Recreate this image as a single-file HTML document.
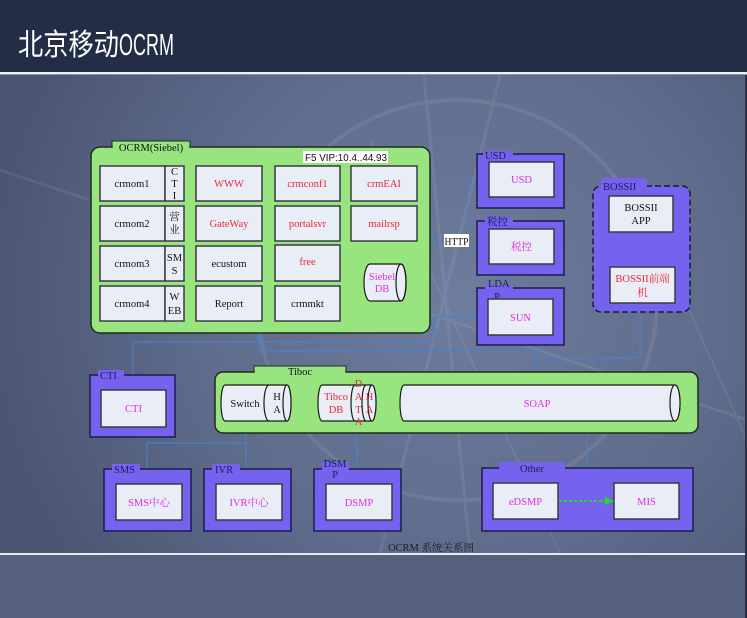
<!DOCTYPE html>
<html><head><meta charset="utf-8"><style>
html,body{margin:0;padding:0;background:#232d46;}
svg{display:block;}
.s{font-family:"Liberation Serif","Noto Serif CJK SC",serif;font-size:10.5px;}
.c{text-anchor:middle;}
.k{fill:#111;}
.r{fill:#e8283c;}
.m{fill:#e02ee0;}
.n{fill:#1c1c5a;}
.box{fill:#e9edf5;stroke:#3a3a44;stroke-width:1.5;}
.pur{fill:#7563ef;stroke:#1d1d4a;stroke-width:1.5;}
.grn{fill:#98e47e;stroke:#1f2a1f;stroke-width:1.5;}
.ln{stroke:#4d80c4;stroke-width:1.2;fill:none;}
.cy{fill:#e9edf5;stroke:#1a1a1a;stroke-width:1.2;}
</style></head><body>
<svg width="747" height="618" viewBox="0 0 747 618" xmlns="http://www.w3.org/2000/svg">
<defs>
<radialGradient id="bg" cx="460" cy="300" r="470" gradientUnits="userSpaceOnUse">
<stop offset="0" stop-color="#6e7c9d"/>
<stop offset="0.55" stop-color="#5f6c8c"/>
<stop offset="1" stop-color="#4b5673"/>
</radialGradient>
</defs>
<!-- header -->
<rect x="0" y="0" width="747" height="72" fill="#232d46"/>
<text x="18" y="55" font-family="'Noto Sans CJK SC',sans-serif" font-size="30" fill="#fff" textLength="101" lengthAdjust="spacingAndGlyphs">北京移动</text>
<text x="119" y="55" font-family="'Liberation Sans',sans-serif" font-size="31" fill="#fff" textLength="55" lengthAdjust="spacingAndGlyphs">OCRM</text>
<rect x="0" y="72" width="747" height="2" fill="#eef0f4"/>
<rect x="0" y="74" width="747" height="1" fill="#8a93a8"/>
<!-- main bg -->
<rect x="0" y="75" width="747" height="478" fill="url(#bg)"/>
<g stroke="#ffffff" fill="none" opacity="0.07">
<circle cx="457" cy="300" r="200" stroke-width="4"/>
<line x1="424" y1="75" x2="470" y2="553" stroke-width="3"/>
<line x1="500" y1="75" x2="380" y2="553" stroke-width="3"/>
<line x1="0" y1="170" x2="747" y2="420" stroke-width="3"/>
<line x1="370" y1="140" x2="560" y2="553" stroke-width="2"/>
<line x1="640" y1="200" x2="747" y2="440" stroke-width="2"/>
</g>
<rect x="0" y="553" width="747" height="2" fill="#e8eaf0"/>
<rect x="0" y="555" width="747" height="63" fill="#54607e"/>
<rect x="745" y="75" width="2" height="543" fill="#2a3146"/>

<!-- connectors -->
<g class="ln">
<path d="M430 240 H444"/>
<path d="M468 178 V249 M468 178 H477 M468 249 H477"/>
<path d="M133 375 V342 H435 V317 H477"/>
<path d="M259 337 V351 H537 V385"/>
<path d="M640 312 V358 H540"/>
<path d="M246 425 V469 M147 469 V443 H246"/>
<path d="M357 426 V469 M357 431 H587 V468 M537 425 V431"/>
</g>
<g fill="#4d80c4">
<polygon points="259,333 256,339 262,339"/>
<polygon points="246,421 243,427 249,427"/>
<polygon points="537,421 534,427 540,427"/>
</g>

<!-- OCRM -->
<rect x="112" y="141" width="78" height="9" fill="#98e47e" stroke="#1f2a1f" stroke-width="1"/>
<rect x="91" y="147" width="339" height="186" rx="9" class="grn"/>
<rect x="112.8" y="146" width="76.4" height="3" fill="#98e47e"/>
<text x="151" y="151" class="s c k">OCRM(Siebel)</text>
<rect x="303" y="151" width="85" height="12" fill="#fff"/>
<text x="305" y="161" font-family="'Liberation Sans',sans-serif" font-size="10" fill="#111" textLength="82" lengthAdjust="spacingAndGlyphs">F5 VIP:10.4..44.93</text>

<g>
<rect x="100" y="166" width="65" height="35" class="box"/><rect x="165" y="166" width="19" height="35" class="box"/>
<rect x="100" y="206" width="65" height="35" class="box"/><rect x="165" y="206" width="19" height="35" class="box"/>
<rect x="100" y="246" width="65" height="35" class="box"/><rect x="165" y="246" width="19" height="35" class="box"/>
<rect x="100" y="286" width="65" height="35" class="box"/><rect x="165" y="286" width="19" height="35" class="box"/>
<rect x="196" y="166" width="66" height="35" class="box"/>
<rect x="196" y="206" width="66" height="35" class="box"/>
<rect x="196" y="246" width="66" height="35" class="box"/>
<rect x="196" y="286" width="66" height="35" class="box"/>
<rect x="275" y="166" width="65" height="35" class="box"/>
<rect x="275" y="206" width="65" height="35" class="box"/>
<rect x="275" y="245" width="65" height="36" class="box"/>
<rect x="275" y="286" width="65" height="35" class="box"/>
<rect x="351" y="166" width="66" height="35" class="box"/>
<rect x="351" y="206" width="66" height="35" class="box"/>
</g>
<g class="s c">
<text x="132" y="187" class="k">crmom1</text>
<text x="132" y="227" class="k">crmom2</text>
<text x="132" y="267" class="k">crmom3</text>
<text x="132" y="307" class="k">crmom4</text>
<text x="174.5" y="175" class="k">C</text><text x="174.5" y="187" class="k">T</text><text x="174.5" y="199" class="k">I</text>
<text x="174.5" y="220" class="k">营</text><text x="174.5" y="233" class="k">业</text>
<text x="174.5" y="261" class="k">SM</text><text x="174.5" y="274" class="k">S</text>
<text x="174.5" y="300" class="k">W</text><text x="174.5" y="314" class="k">EB</text>
<text x="229" y="187" class="r">WWW</text>
<text x="229" y="227" class="r">GateWay</text>
<text x="229" y="267" class="k">ecustom</text>
<text x="229" y="307" class="k">Report</text>
<text x="307.5" y="187" class="r">crmconf1</text>
<text x="307.5" y="227" class="r">portalsvr</text>
<text x="307.5" y="265" class="r">free</text>
<text x="307.5" y="307" class="k">crmmkt</text>
<text x="384" y="187" class="r">crmEAI</text>
<text x="384" y="227" class="r">mailrsp</text>
</g>
<!-- Siebel DB -->
<path d="M370 264 H401 A5 18.5 0 0 1 401 301 H370 A6 18.5 0 0 1 370 264 Z" class="cy"/>
<ellipse cx="401" cy="282.5" rx="5" ry="18.5" fill="none" stroke="#1a1a1a" stroke-width="1.2"/>
<text x="382" y="280" class="s c m" font-size="10">Siebel</text>
<text x="382" y="292" class="s c m" font-size="10">DB</text>

<!-- HTTP -->
<rect x="444" y="234" width="25" height="13" fill="#fff"/>
<text x="456.5" y="245" class="s c k" font-size="10" textLength="24" lengthAdjust="spacingAndGlyphs">HTTP</text>

<!-- USD -->
<rect x="477" y="154" width="87" height="54" class="pur"/>
<rect x="483" y="151" width="30" height="6" fill="#7563ef"/>
<text x="485" y="159" class="s n">USD</text>
<rect x="489" y="162" width="65" height="35" class="box"/>
<text x="521.5" y="183" class="s c m">USD</text>
<!-- 税控 -->
<rect x="477" y="221" width="87" height="54" class="pur"/>
<rect x="485" y="217" width="28" height="7" fill="#7563ef"/>
<text x="487" y="225" class="s n">税控</text>
<rect x="489" y="229" width="65" height="35" class="box"/>
<text x="521.5" y="250" class="s c m">税控</text>
<!-- LDAP -->
<rect x="477" y="288" width="87" height="57" class="pur"/>
<rect x="485" y="285" width="28" height="12" fill="#7563ef"/>
<text x="488" y="287" class="s n">LDA</text>
<text x="497" y="300" class="s c n">P</text>
<rect x="488" y="299" width="65" height="36" class="box"/>
<text x="520.5" y="321" class="s c m">SUN</text>

<!-- BOSSII -->
<rect x="593" y="186" width="97" height="126" rx="8" fill="#7563ef" stroke="#1a1a3a" stroke-width="1.5" stroke-dasharray="6,3"/>
<rect x="601" y="178" width="46" height="10" fill="#7563ef"/>
<text x="603" y="190" class="s n">BOSSII</text>
<rect x="609" y="196" width="64" height="36" class="box"/>
<text x="641" y="211" class="s c k">BOSSII</text>
<text x="641" y="224" class="s c k">APP</text>
<rect x="610" y="267" width="65" height="36" class="box"/>
<text x="642.5" y="282" class="s c r">BOSSII前端</text>
<text x="642.5" y="296" class="s c r">机</text>

<!-- CTI -->
<rect x="90" y="375" width="85" height="62" class="pur"/>
<rect x="98" y="370" width="26" height="7" fill="#7563ef"/>
<text x="100" y="379" class="s n">CTI</text>
<rect x="101" y="390" width="65" height="37" class="box"/>
<text x="133.5" y="412" class="s c m">CTI</text>

<!-- Tiboc -->
<rect x="254" y="366" width="92" height="9" fill="#98e47e" stroke="#1f2a1f" stroke-width="1"/>
<rect x="215" y="372" width="483" height="61" rx="8" class="grn"/>
<rect x="254.8" y="371" width="90.4" height="3" fill="#98e47e"/>
<text x="300" y="375" class="s c k">Tiboc</text>

<!-- Switch -->
<path d="M225 385 H287 A4 18 0 0 1 287 421 H225 A4 18 0 0 1 225 385 Z" class="cy"/>
<ellipse cx="287" cy="403" rx="4" ry="18" class="cy"/>
<path d="M269 385 A5 18 0 0 0 269 421" fill="none" stroke="#1a1a1a" stroke-width="1.2"/>
<text x="245" y="407" class="s c k">Switch</text>
<text x="277" y="400" class="s c k">H</text>
<text x="277" y="413" class="s c k">A</text>
<!-- Tibco DB -->
<path d="M322 385 H372 A4 18 0 0 1 372 421 H322 A4 18 0 0 1 322 385 Z" class="cy"/>
<ellipse cx="372" cy="403" rx="4" ry="18" class="cy"/>
<path d="M355 385 A4 18 0 0 0 355 421" fill="none" stroke="#1a1a1a" stroke-width="1.2"/>
<path d="M366 385 A4 18 0 0 0 366 421" fill="none" stroke="#1a1a1a" stroke-width="1.2"/>
<text x="336" y="400" class="s c r">Tibco</text>
<text x="336" y="413" class="s c r">DB</text>
<text x="358.5" y="387" class="s c r">D</text>
<text x="358.5" y="400" class="s c r">A</text>
<text x="358.5" y="413" class="s c r">T</text>
<text x="358.5" y="425" class="s c r">A</text>
<text x="369.5" y="400" class="s c r">H</text>
<text x="369.5" y="413" class="s c r">A</text>
<!-- SOAP -->
<path d="M404 385 H675 A5 18 0 0 1 675 421 H404 A4 18 0 0 1 404 385 Z" class="cy"/>
<ellipse cx="675" cy="403" rx="5" ry="18" class="cy"/>
<text x="537" y="407" class="s c m">SOAP</text>

<!-- bottom row -->
<rect x="104" y="469" width="87" height="62" class="pur"/>
<rect x="112" y="464" width="28" height="7" fill="#7563ef"/>
<text x="114" y="473" class="s n">SMS</text>
<rect x="116" y="484" width="66" height="36" class="box"/>
<text x="149" y="506" class="s c m">SMS中心</text>

<rect x="204" y="469" width="87" height="62" class="pur"/>
<rect x="212" y="464" width="28" height="7" fill="#7563ef"/>
<text x="215" y="473" class="s n">IVR</text>
<rect x="216" y="484" width="66" height="36" class="box"/>
<text x="249" y="506" class="s c m">IVR中心</text>

<rect x="314" y="469" width="87" height="62" class="pur"/>
<rect x="322" y="462" width="27" height="16" fill="#7563ef"/>
<text x="335" y="467" class="s c n">DSM</text>
<text x="335" y="478" class="s c n">P</text>
<rect x="326" y="484" width="66" height="36" class="box"/>
<text x="359" y="506" class="s c m">DSMP</text>

<rect x="482" y="468" width="211" height="63" class="pur"/>
<rect x="499" y="462" width="66" height="8" fill="#7563ef"/>
<text x="532" y="472" class="s c n">Other</text>
<rect x="493" y="483" width="65" height="36" class="box"/>
<text x="525.5" y="505" class="s c m">eDSMP</text>
<rect x="614" y="483" width="65" height="36" class="box"/>
<text x="646.5" y="505" class="s c m">MIS</text>
<line x1="559" y1="501" x2="607" y2="501" stroke="#22dd22" stroke-width="2" stroke-dasharray="3,2"/>
<polygon points="614,501 605,497 605,505" fill="#22dd22"/>

<text x="431" y="551" class="s c" fill="#1a1a2a" font-size="10">OCRM 系统关系图</text>
</svg>
</body></html>
